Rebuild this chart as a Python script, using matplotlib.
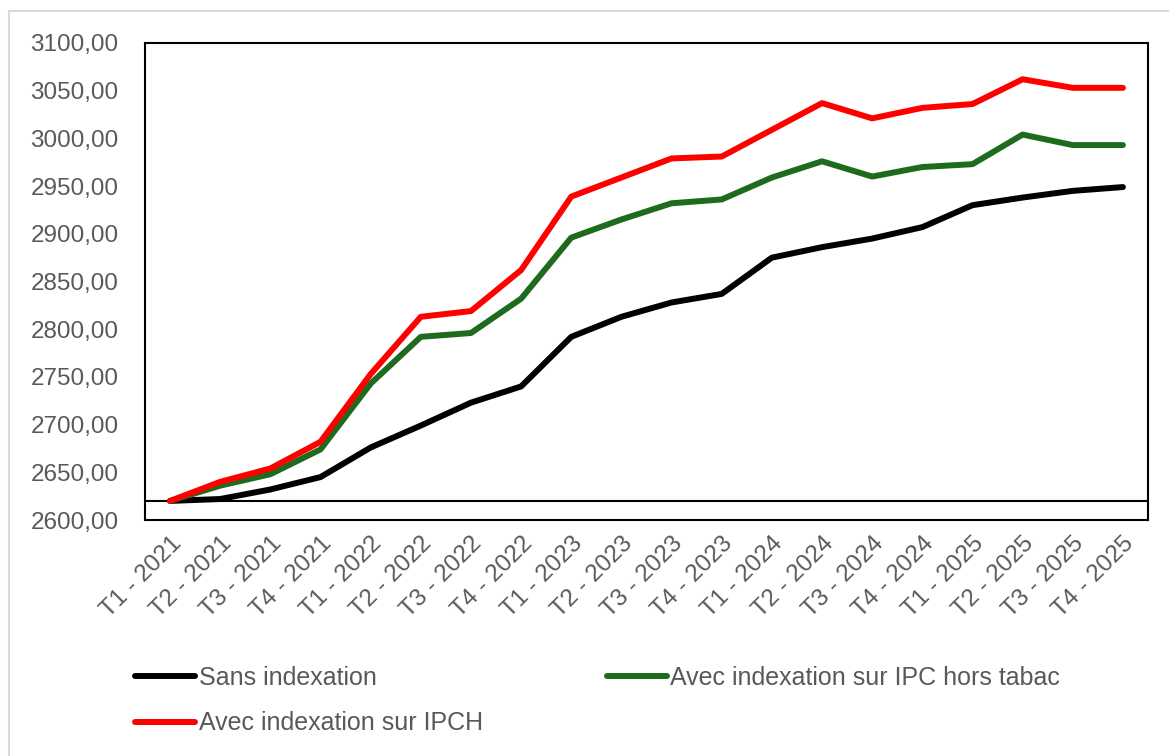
import matplotlib
matplotlib.use("Agg")
from matplotlib import pyplot as plt
from matplotlib.patches import Rectangle
from matplotlib.ticker import FuncFormatter

plt.rcParams['font.family'] = ['Liberation Sans', 'DejaVu Sans']

quarters = ['T1 - 2021', 'T2 - 2021', 'T3 - 2021', 'T4 - 2021',
            'T1 - 2022', 'T2 - 2022', 'T3 - 2022', 'T4 - 2022',
            'T1 - 2023', 'T2 - 2023', 'T3 - 2023', 'T4 - 2023',
            'T1 - 2024', 'T2 - 2024', 'T3 - 2024', 'T4 - 2024',
            'T1 - 2025', 'T2 - 2025', 'T3 - 2025', 'T4 - 2025']

sans_index = [2620, 2622, 2632, 2645, 2676, 2699, 2723, 2740,
              2792, 2813, 2828, 2837, 2875, 2886, 2895, 2907,
              2930, 2938, 2945, 2949]
ipc_hors_tabac = [2620, 2636, 2648, 2674, 2743, 2792, 2796, 2832,
                  2896, 2915, 2932, 2936, 2959, 2976, 2960, 2970,
                  2973, 3004, 2993, 2993]
ipch = [2620, 2640, 2654, 2682, 2753, 2813, 2819, 2862,
        2939, 2959, 2979, 2981, 3009, 3037, 3021, 3032,
        3036, 3062, 3053, 3053]

base_level = 2620
label_names = ['Sans indexation', 'Avec indexation sur IPC hors tabac',
               'Avec indexation sur IPCH']

fig = plt.figure(figsize=(11.69, 7.56), dpi=100)
ax = fig.add_axes([145 / 1169, 1 - 520 / 756, 1003 / 1169, 477 / 756])

x = list(range(len(quarters)))
l1, = ax.plot(x, sans_index, color='black', lw=4.3, solid_capstyle='round')
l2, = ax.plot(x, ipc_hors_tabac, color='#1e6b1e', lw=4.3, solid_capstyle='round')
l3, = ax.plot(x, ipch, color='#ff0000', lw=4.3, solid_capstyle='round')
ax.axhline(base_level, color='black', lw=1.5, zorder=1)

ax.set_xlim(-0.5, len(quarters) - 0.5)
ax.set_ylim(2600, 3100)
ax.set_yticks(range(2600, 3101, 50))
ax.yaxis.set_major_formatter(FuncFormatter(lambda v, p: f"{v:.2f}".replace('.', ',')))
ax.set_xticks(x)
ax.set_xticklabels(quarters, rotation=45, ha='right', rotation_mode='anchor')
ax.tick_params(length=0, labelsize=17.5, colors='#595959')
ax.tick_params(axis='y', pad=19)
ax.tick_params(axis='x', pad=9)
for s in ax.spines.values():
    s.set_linewidth(1.5)
    s.set_color('black')

fig.legend([l1, l3, l2], [label_names[0], label_names[2], label_names[1]],
           ncol=2, loc='upper left', bbox_to_anchor=(135 / 1169, 1 - 666 / 756),
           frameon=False, fontsize=18, labelcolor='#595959',
           handlelength=2.4, handletextpad=0.15, columnspacing=4.95,
           labelspacing=0.85, borderaxespad=0, borderpad=0)

fig.patches.append(Rectangle((9 / 1169, -0.05), 1.2, 1 - 11 / 756 + 0.05,
                             transform=fig.transFigure, fill=False,
                             edgecolor='#d9d9d9', lw=1.5))

fig.savefig('out.png', dpi=100, facecolor='white')
